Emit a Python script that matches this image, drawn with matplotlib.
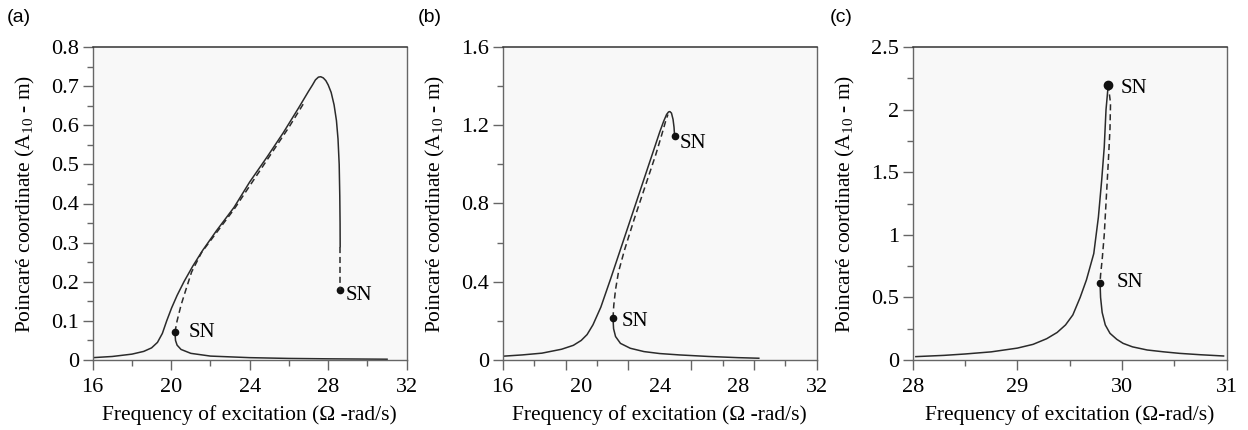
import numpy as np
import matplotlib
matplotlib.use('Agg')
import matplotlib.pyplot as plt
from matplotlib.ticker import MultipleLocator, FixedLocator

# ---- panel (a) ----
a_up_x = [16.0, 17.0, 18.0, 18.6, 19.0, 19.3, 19.55, 19.77, 20.02, 20.3, 20.65, 21.1, 21.6, 22.3, 23.2,
          24.0, 24.9, 25.7, 26.5, 27.0, 27.2, 27.35, 27.5, 27.62, 27.75, 27.88, 28.0, 28.15, 28.3,
          28.42, 28.5, 28.56, 28.59, 28.605, 28.61]
a_up_y = [0.006, 0.009, 0.015, 0.022, 0.031, 0.045, 0.068, 0.1, 0.133, 0.165, 0.2, 0.24, 0.28, 0.33, 0.39,
          0.455, 0.52, 0.58, 0.645, 0.687, 0.703, 0.716, 0.723, 0.724, 0.721, 0.714, 0.703, 0.684, 0.652,
          0.612, 0.565, 0.5, 0.42, 0.35, 0.29]
a_tail_x = [28.61, 28.61]
a_tail_y = [0.29, 0.18]
a_uns_x = [20.19, 20.3, 20.5, 20.75, 21.04, 21.55, 22.3, 23.2, 24.2, 25.2, 26.0, 26.8]
a_uns_y = [0.071, 0.1, 0.14, 0.18, 0.225, 0.275, 0.325, 0.385, 0.46, 0.535, 0.595, 0.66]
a_low_x = [20.19, 20.22, 20.3, 20.5, 21.0, 22.0, 24.0, 26.0, 28.0, 31.0]
a_low_y = [0.071, 0.05, 0.038, 0.027, 0.017, 0.01, 0.006, 0.004, 0.003, 0.002]
a_sn_x = [20.19, 28.61]
a_sn_y = [0.071, 0.18]

# ---- panel (b) ----
b_up_x = [16.1, 17.0, 18.0, 19.0, 19.6, 20.0, 20.3, 20.6, 21.0, 21.5, 22.3, 23.2, 24.0, 24.2,
          24.35, 24.45, 24.52, 24.6, 24.68, 24.73, 24.76]
b_up_y = [0.02, 0.026, 0.035, 0.055, 0.075, 0.1, 0.13, 0.18, 0.27, 0.415, 0.655, 0.925, 1.165, 1.22,
          1.255, 1.268, 1.27, 1.262, 1.23, 1.19, 1.144]
b_uns_x = [21.62, 21.66, 21.75, 21.9, 22.2, 22.7, 23.3, 23.8, 24.1, 24.3, 24.42]
b_uns_y = [0.213, 0.28, 0.36, 0.45, 0.56, 0.72, 0.9, 1.05, 1.15, 1.22, 1.255]
b_low_x = [21.62, 21.65, 21.75, 22.0, 22.5, 23.2, 24.0, 25.0, 26.5, 28.0, 29.05]
b_low_y = [0.213, 0.16, 0.12, 0.085, 0.06, 0.043, 0.033, 0.026, 0.018, 0.012, 0.009]
b_sn_x = [21.62, 24.76]
b_sn_y = [0.213, 1.144]

# ---- panel (c) ----
c_up_x = [28.03, 28.3, 28.5, 28.75, 29.0, 29.15, 29.28, 29.38, 29.46, 29.53, 29.6, 29.66,
          29.73, 29.774, 29.806, 29.83, 29.847, 29.86, 29.868]
c_up_y = [0.027, 0.037, 0.048, 0.065, 0.095, 0.125, 0.17, 0.22, 0.28, 0.36, 0.5, 0.64,
          0.85, 1.14, 1.44, 1.70, 2.0, 2.12, 2.2]
c_uns_x = [29.868, 29.89, 29.885, 29.87, 29.85, 29.83, 29.81, 29.795, 29.79]
c_uns_y = [2.2, 2.05, 1.85, 1.6, 1.3, 1.0, 0.8, 0.68, 0.617]
c_low_x = [29.79, 29.795, 29.81, 29.84, 29.885, 29.95, 30.01, 30.1, 30.24, 30.4, 30.55, 30.75, 30.97]
c_low_y = [0.617, 0.5, 0.38, 0.28, 0.213, 0.165, 0.133, 0.105, 0.08, 0.065, 0.053, 0.042, 0.032]
c_sn_x = [29.79, 29.868]
c_sn_y = [0.617, 2.2]

serif = 'Liberation Serif'
lc = '#2b2b2b'
tick_fs = 16
lab_fs = 15.5
sn_fs = 15
xlab = ['Frequency of excitation (\u03a9 -rad/s)', 'Frequency of excitation (\u03a9 -rad/s)',
        'Frequency of excitation (\u03a9-rad/s)']
ylab = r'Poincaré coordinate (A$_{\mathregular{10}}$ - m)'

fig = plt.figure(figsize=(12.48, 4.3), dpi=100)
lefts = [92.7 / 1248, 502.7 / 1248, 912.7 / 1248]
axs = [fig.add_axes([l, 1 - 360 / 430, 314 / 1248, 313 / 430]) for l in lefts]


def style(ax):
    ax.set_facecolor('#f8f8f8')
    for s in ['left', 'bottom', 'right']:
        ax.spines[s].set_color('#666666')
        ax.spines[s].set_linewidth(1.0)
    ax.spines['top'].set_color('#333333')
    ax.spines['top'].set_linewidth(1.1)
    ax.tick_params(which='major', direction='out', length=7, width=1.0, color='#666666',
                   labelsize=tick_fs)
    ax.tick_params(axis='x', which='major', pad=6)
    ax.tick_params(axis='y', which='major', pad=3)
    ax.tick_params(which='minor', direction='out', length=4, width=1.0, color='#666666')
    for t in ax.get_xticklabels() + ax.get_yticklabels():
        t.set_family(serif)


def curves(ax, up_x, up_y, uns_x, uns_y, low_x, low_y, sn_x, sn_y):
    ax.plot(up_x, up_y, color=lc, lw=1.1)
    ax.plot(uns_x, uns_y, color=lc, lw=1.1, ls=(0, (4, 2.5)))
    ax.plot(low_x, low_y, color=lc, lw=1.1)
    ax.plot(sn_x, sn_y, 'o', color='#111111', ms=4.5)


def sn_label(ax, x, y, dx, dy):
    ax.annotate('SN', (x, y), xytext=(dx, dy), textcoords='offset pixels',
                va='center', ha='left', family=serif, fontsize=sn_fs)


# (a)
ax = axs[0]
curves(ax, a_up_x, a_up_y, a_uns_x, a_uns_y, a_low_x, a_low_y, a_sn_x, a_sn_y)
ax.plot(a_tail_x, a_tail_y, color=lc, lw=1.1, ls=(0, (4, 2.5)))
ax.set_xlim(16, 32)
ax.set_ylim(0, 0.8)
ax.xaxis.set_major_locator(MultipleLocator(4))
ax.xaxis.set_minor_locator(MultipleLocator(2))
ax.yaxis.set_major_locator(MultipleLocator(0.1))
ax.yaxis.set_minor_locator(MultipleLocator(0.05))
ax.set_yticklabels(['0' if v == 0 else f'{v:.1f}' for v in ax.get_yticks()])
sn_label(ax, a_sn_x[0], a_sn_y[0], 14, 0)
sn_label(ax, a_sn_x[1], a_sn_y[1], 5, -6)

# (b)
ax = axs[1]
curves(ax, b_up_x, b_up_y, b_uns_x, b_uns_y, b_low_x, b_low_y, b_sn_x, b_sn_y)
ax.set_xlim(16, 32)
ax.set_ylim(0, 1.6)
ax.yaxis.set_major_locator(MultipleLocator(0.4))
ax.yaxis.set_minor_locator(MultipleLocator(0.2))
ax.set_yticklabels(['0' if v == 0 else f'{v:.1f}' for v in ax.get_yticks()])
sn_label(ax, b_sn_x[0], b_sn_y[0], 9, -3)
sn_label(ax, b_sn_x[1], b_sn_y[1], 5, -7)

# (c)
ax = axs[2]
curves(ax, c_up_x, c_up_y, c_uns_x, c_uns_y, c_low_x, c_low_y, c_sn_x, c_sn_y)
ax.plot([c_sn_x[1]], [c_sn_y[1]], 'o', color='#111111', ms=6)
ax.set_xlim(28, 31)
ax.set_ylim(0, 2.5)
ax.xaxis.set_major_locator(MultipleLocator(1))
ax.xaxis.set_minor_locator(MultipleLocator(0.5))
ax.yaxis.set_major_locator(MultipleLocator(0.5))
ax.yaxis.set_minor_locator(MultipleLocator(0.25))
ax.set_yticklabels(['0' if v == 0 else ('%g' % v) for v in ax.get_yticks()])
sn_label(ax, c_sn_x[0], c_sn_y[0], 17, 0)
sn_label(ax, c_sn_x[1], c_sn_y[1], 12, -4)

for i, ax in enumerate(axs):
    style(ax)
    ax.set_xlabel(xlab[i], family=serif, fontsize=lab_fs, labelpad=6)
    ax.set_ylabel(ylab, family=serif, fontsize=lab_fs, labelpad=10)

# panel (b): labels sit at 16, 20, ..., marks every 1.6 (as in the source figure)
ax = axs[1]
ax.xaxis.set_major_locator(FixedLocator([16, 20, 24, 28, 32]))
ax.xaxis.set_minor_locator(FixedLocator([16 + 1.6 * k for k in range(1, 10, 2)]))
ax.tick_params(axis='x', which='major', length=0, pad=13)
for t in ax.get_xticklabels():
    t.set_family(serif)
sec = ax.secondary_xaxis('bottom')
sec.set_xticks([16 + 3.2 * k for k in range(6)])
sec.set_xticklabels([])
sec.tick_params(direction='out', length=7, width=1.0, color='#666666')
sec.spines['bottom'].set_visible(False)

for lab, x in zip(['(a)', '(b)', '(c)'], [7, 418, 830]):
    fig.text(x / 1248, 1 - 18 / 430, lab, family='Liberation Sans', fontsize=14,
             ha='left', va='center')

fig.savefig('out.png', dpi=100)
